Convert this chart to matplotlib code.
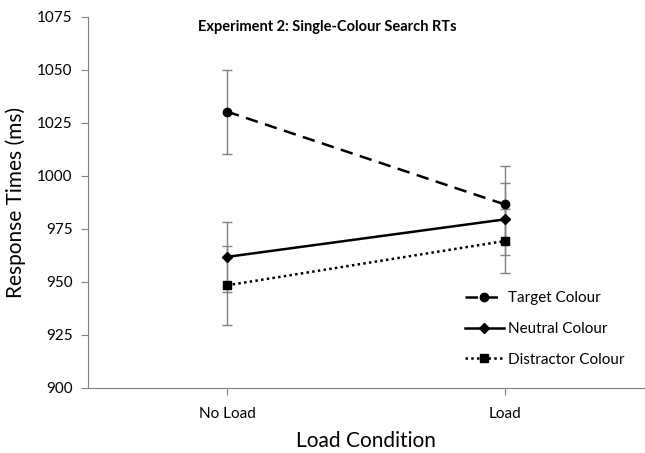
import matplotlib.pyplot as plt

# data
conditions = ['No Load', 'Load']
target = [1030.3, 986.5]
target_err = [19.8, 18.0]
neutral = [961.8, 979.5]
neutral_err = [16.6, 17.0]
distractor = [948.4, 969.3]
distractor_err = [18.7, 15.2]

plt.rcParams['font.family'] = ['Lato', 'DejaVu Sans']

fig = plt.figure(figsize=(6.45, 4.53), dpi=100)
ax = fig.add_axes([0.1364, 0.1435, 0.862, 0.8195])

x = list(range(len(conditions)))
series = [
    (target, target_err, 'Target Colour', (0, (5, 3)), 'o', 6),
    (neutral, neutral_err, 'Neutral Colour', '-', 'D', 5),
    (distractor, distractor_err, 'Distractor Colour', (0, (1, 1.3)), 's', 6),
]
for vals, errs, label, ls, mk, ms in series:
    ax.errorbar(x, vals, yerr=errs, fmt='none', ecolor='#808080',
                elinewidth=1, capsize=3.5, capthick=1, zorder=2)
    ax.plot(x, vals, color='black', linestyle=ls, linewidth=1.8,
            marker=mk, markersize=ms, label=label, zorder=3)

ax.set_xlim(-0.5, 1.5)
ax.set_ylim(900, 1075)
ax.set_yticks(range(900, 1076, 25))
ax.set_xticks(x)
ax.set_xticklabels(conditions)
ax.tick_params(axis='both', labelsize=11, color='#808080', length=5)
ax.tick_params(axis='x', pad=9)
ax.tick_params(axis='y', pad=6)

for side in ['top', 'right']:
    ax.spines[side].set_visible(False)
for side in ['left', 'bottom']:
    ax.spines[side].set_color('#808080')

ax.set_xlabel('Load Condition', fontsize=15, labelpad=7)
ax.set_ylabel('Response Times (ms)', fontsize=15, labelpad=8)
ax.text(0.43, 0.99, 'Experiment 2: Single-Colour Search RTs', transform=ax.transAxes,
        ha='center', va='top', fontsize=10.5, fontweight='bold')

ax.legend(loc='lower right', bbox_to_anchor=(0.99, 0.02), frameon=False,
          fontsize=11, handlelength=2.5, handletextpad=0.3, labelspacing=1.1)

fig.savefig('out.png', dpi=100)
